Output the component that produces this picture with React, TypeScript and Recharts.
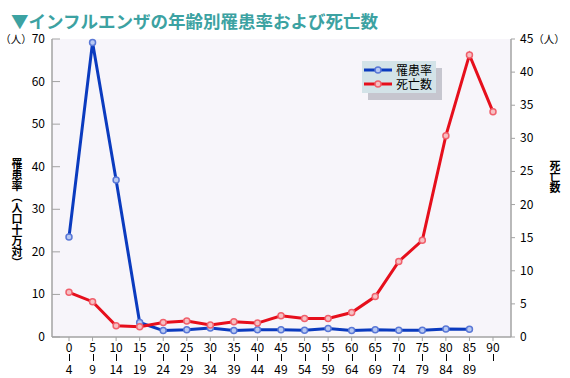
import { LineChart, Line, XAxis, YAxis, CartesianGrid, Legend } from "recharts";

// 年齢階級（下限・上限）
const ageFrom = ["0", "5", "10", "15", "20", "25", "30", "35", "40", "45", "50", "55", "60", "65", "70", "75", "80", "85", "90"];
const ageTo = ["4", "9", "14", "19", "24", "29", "34", "39", "44", "49", "54", "59", "64", "69", "74", "79", "84", "89", ""];

// 罹患率（人口十万対）
const incidence = [23.5, 69.2, 36.9, 3.4, 1.5, 1.7, 2.1, 1.5, 1.7, 1.7, 1.6, 2.0, 1.5, 1.7, 1.6, 1.6, 1.9, 1.8, null];
// 死亡数（人）
const deaths = [6.75, 5.33, 1.7, 1.56, 2.2, 2.4, 1.8, 2.3, 2.1, 3.2, 2.8, 2.8, 3.7, 6.1, 11.4, 14.6, 30.4, 42.6, 34.0];

const leftTicks = [0, 10, 20, 30, 40, 50, 60, 70];
const rightTicks = [0, 5, 10, 15, 20, 25, 30, 35, 40, 45];

const data = ageFrom.map((a, i) => ({ age: a, rate: incidence[i], death: deaths[i] }));

const FONT = "'Noto Sans CJK JP', 'Noto Sans', sans-serif";
const BLUE = "#0b3bbf";
const RED = "#e60f1c";
const AXIS = "#a3a3a3";

const AgeTick = (props: any) => {
  const { x, y, payload, index } = props;
  const cx = Math.round(x) + 0.5;
  return (
    <g>
      <text x={x} y={y + 9} textAnchor="middle" fontSize={12} fill="#000" fontFamily={FONT}>
        {payload.value}
      </text>
      <line x1={cx} x2={cx} y1={y + 11} y2={y + 18} stroke="#000" strokeWidth={1} />
      <text x={x} y={y + 31} textAnchor="middle" fontSize={12} fill="#000" fontFamily={FONT}>
        {ageTo[index]}
      </text>
    </g>
  );
};

const LeftTick = (props: any) => {
  const { x, y, payload } = props;
  return (
    <text x={x} y={y} dy={4} textAnchor="end" fontSize={12} fill="#000" fontFamily={FONT}>
      {payload.value === 70 && <tspan fontSize={10.5}>（人）</tspan>}
      {payload.value}
    </text>
  );
};

const RightTick = (props: any) => {
  const { x, y, payload } = props;
  return (
    <text x={x} y={y} dy={4} textAnchor="start" fontSize={12} fill="#000" fontFamily={FONT}>
      {payload.value}
      {payload.value === 45 && <tspan fontSize={10.5}>（人）</tspan>}
    </text>
  );
};

const VLabel = (props: any) => {
  const { viewBox, text, cx, top } = props;
  return (
    <text
      x={viewBox.x + cx}
      y={viewBox.y + top}
      textAnchor="start"
      fontSize={11}
      fontWeight="bold"
      fill="#000"
      fontFamily={FONT}
      style={{ writingMode: "vertical-rl" }}
    >
      {text}
    </text>
  );
};

const LegendBox = () => (
  <div style={{ position: "relative", width: 74, height: 32, fontFamily: FONT }}>
    <div style={{ position: "absolute", left: 6, top: 7, width: 74, height: 32, background: "#c6c6cf" }} />
    <div style={{ position: "absolute", left: 0, top: 0, width: 74, height: 32, background: "#d3e3e8" }}>
      {[
        { name: "罹患率", color: BLUE, dot: "#b9c9f2", ring: "#5a78d6" },
        { name: "死亡数", color: RED, dot: "#f6c0c3", ring: "#f0606c" },
      ].map((it, i) => (
        <div key={it.name} style={{ position: "absolute", left: 2, top: 2 + i * 14, display: "flex", alignItems: "center", height: 14 }}>
          <svg width={28} height={10}>
            <line x1={0} x2={28} y1={5} y2={5} stroke={it.color} strokeWidth={3} />
            <circle cx={14} cy={5} r={3} fill={it.dot} stroke={it.ring} strokeWidth={1.5} />
          </svg>
          <span style={{ fontSize: 12, marginLeft: 4, color: "#000", lineHeight: "14px" }}>{it.name}</span>
        </div>
      ))}
    </div>
  </div>
);

export default function App() {
  return (
    <div style={{ position: "absolute", left: 0, top: 0, width: 570, height: 378, background: "#fff" }}>
      <div
        style={{
          position: "absolute",
          left: 11,
          top: 11,
          fontSize: 17.5,
          fontWeight: "bold",
          color: "#3ca2a2",
          fontFamily: FONT,
          lineHeight: "20px",
          whiteSpace: "nowrap",
        }}
      >
        ▼インフルエンザの年齢別罹患率および死亡数
      </div>
      <LineChart
        width={570}
        height={378}
        data={data}
        margin={{ top: 39, right: 0, left: 0, bottom: 0 }}
        style={{ fontFamily: FONT }}
      >
        <CartesianGrid fill="#f7f5fa" horizontal={false} vertical={false} />
        <XAxis
          dataKey="age"
          height={41}
          padding={{ left: 17, right: 18 }}
          interval={0}
          axisLine={{ stroke: AXIS, strokeWidth: 1.5 }}
          tickLine={{ stroke: AXIS }}
          tickSize={4}
          tickMargin={2}
          tick={<AgeTick />}
        />
        <XAxis
          xAxisId="top"
          dataKey="age"
          orientation="top"
          height={0}
          tick={false}
          tickLine={false}
          axisLine={{ stroke: AXIS, strokeWidth: 1.5 }}
        />
        <YAxis
          yAxisId="left"
          width={52}
          domain={[0, 70]}
          ticks={leftTicks}
          interval={0}
          axisLine={{ stroke: AXIS, strokeWidth: 1.5 }}
          tickLine={{ stroke: AXIS }}
          tickSize={-8}
          tickMargin={15}
          tick={<LeftTick />}
          label={<VLabel text="罹患率（人口十万対）" cx={17} top={119} />}
        />
        <YAxis
          yAxisId="right"
          orientation="right"
          width={59}
          domain={[0, 45]}
          ticks={rightTicks}
          interval={0}
          axisLine={{ stroke: AXIS, strokeWidth: 1.5 }}
          tickLine={{ stroke: AXIS }}
          tickSize={4}
          tickMargin={5}
          tick={<RightTick />}
          label={<VLabel text="死亡数" cx={44} top={121} />}
        />
        <Legend
          layout="horizontal"
          verticalAlign="middle"
          align="center"
          content={<LegendBox />}
          wrapperStyle={{ left: 362, top: 61, width: 80 }}
        />
        <Line
          yAxisId="left"
          dataKey="rate"
          name="罹患率"
          stroke={BLUE}
          strokeWidth={3}
          dot={{ r: 3, fill: "#b9c9f2", stroke: "#5a78d6", strokeWidth: 1.5 }}
          activeDot={false}
          isAnimationActive={false}
        />
        <Line
          yAxisId="right"
          dataKey="death"
          name="死亡数"
          stroke={RED}
          strokeWidth={3}
          dot={{ r: 3, fill: "#f6c0c3", stroke: "#f0606c", strokeWidth: 1.5 }}
          activeDot={false}
          isAnimationActive={false}
        />
      </LineChart>
    </div>
  );
}
